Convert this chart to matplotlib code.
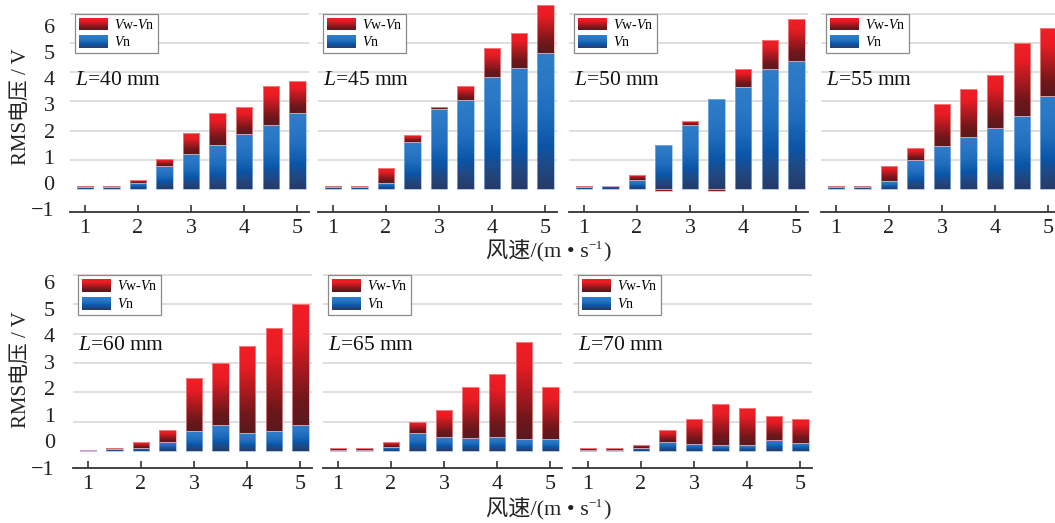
import numpy as np
import matplotlib
matplotlib.use('Agg')
import matplotlib.pyplot as plt
from matplotlib.colors import LinearSegmentedColormap
from matplotlib.patches import Rectangle
from matplotlib.legend_handler import HandlerBase
import matplotlib.transforms as mtransforms

plt.rcParams['font.family'] = ['Liberation Serif', 'Noto Sans CJK SC']
plt.rcParams['mathtext.fontset'] = 'custom'
plt.rcParams['mathtext.rm'] = 'Liberation Serif'
plt.rcParams['mathtext.it'] = 'Liberation Serif:italic'
plt.rcParams['axes.unicode_minus'] = True

# ---------------- data ----------------
wind_speed = [1.0, 1.5, 2.0, 2.5, 3.0, 3.5, 4.0, 4.5, 5.0]
x_ticks = [1, 2, 3, 4, 5]
y_ticks = [1, 2, 3, 4, 5, 6]
y_tick_labels = [-1, 0, 1, 2, 3, 4, 5, 6]
panel_labels = ['40', '45', '50', '55', '60', '65', '70']

vn_40 = [0.05, 0.05, 0.22, 0.80, 1.20, 1.50, 1.89, 2.20, 2.59]
diff_40 = [0.04, 0.04, 0.08, 0.22, 0.70, 1.09, 0.91, 1.32, 1.12]
vn_45 = [0.05, 0.05, 0.22, 1.62, 2.73, 3.05, 3.85, 4.13, 4.65]
diff_45 = [0.04, 0.04, 0.49, 0.22, 0.09, 0.49, 0.97, 1.20, 1.65]
vn_50 = [0.05, 0.11, 0.30, 1.50, 2.19, 3.09, 3.49, 4.10, 4.38]
diff_50 = [0.06, 0.00, 0.19, -0.06, 0.12, -0.06, 0.61, 0.99, 1.43]
vn_55 = [0.05, 0.05, 0.27, 1.00, 1.48, 1.79, 2.10, 2.50, 3.18]
diff_55 = [0.04, 0.04, 0.53, 0.41, 1.42, 1.62, 1.81, 2.50, 2.32]
vn_60 = [0.03, 0.06, 0.11, 0.31, 0.68, 0.90, 0.60, 0.68, 0.90]
diff_60 = [0.00, 0.05, 0.20, 0.40, 1.81, 2.09, 3.00, 3.51, 4.10]
vn_65 = [0.05, 0.05, 0.15, 0.60, 0.49, 0.45, 0.49, 0.40, 0.40]
diff_65 = [0.06, 0.06, 0.17, 0.40, 0.91, 1.72, 2.13, 3.32, 1.79]
vn_70 = [0.05, 0.05, 0.11, 0.31, 0.24, 0.19, 0.19, 0.39, 0.29]
diff_70 = [0.06, 0.06, 0.11, 0.39, 0.86, 1.41, 1.29, 0.80, 0.80]

vn_series = [vn_40, vn_45, vn_50, vn_55, vn_60, vn_65, vn_70]
diff_series = [diff_40, diff_45, diff_50, diff_55, diff_60, diff_65, diff_70]

# ---------------- style ----------------
W, H = 1055, 523
fig = plt.figure(figsize=(W / 100, H / 100), dpi=100)

blue_cmap = LinearSegmentedColormap.from_list('b', [
    (0.0, '#283a68'), (0.18, '#1f4a86'), (0.32, '#0a55a8'),
    (0.55, '#1e6cbc'), (0.8, '#2a78c6'), (1.0, '#2f7ec9')])
red_cmap = LinearSegmentedColormap.from_list('r', [
    (0.0, '#5a1a1e'), (0.2, '#6e171b'), (0.5, '#b01a20'),
    (0.75, '#e81c24'), (1.0, '#f21e26')])

bar_w = 0.31
grad = np.linspace(0, 1, 256).reshape(-1, 1)

# panel rects in pixels: left, top, width, height
top_rects = [(70, 0), (318, 0), (569, 0), (821, 0)]
bot_rects = [(73, 262), (323, 262), (573, 262)]
rects = [(l, t, 239, 212) for l, t in top_rects] + [(l, t, 239, 206) for l, t in bot_rects]
ylims = [(-0.79, 6.47)] * 4 + [(-0.58, 6.45)] * 3
label_ylims = {0: (-1.107, 6.985), 4: (-0.83, 6.76)}
label_pads = {0: 11, 4: 13}
text_y = [3.72] * 4 + [3.6] * 3


def to_fig(l, t, w, h):
    return [l / W, 1 - (t + h) / H, w / W, h / H]


def fill_gradient(ax, bars, cmap):
    for p in bars:
        x0, y0 = p.get_x(), p.get_y()
        w, h = p.get_width(), p.get_height()
        if abs(h) < 1e-9:
            continue
        ylo, yhi = min(y0, y0 + h), max(y0, y0 + h)
        im = ax.imshow(grad, extent=(x0, x0 + w, ylo, yhi), origin='lower',
                       aspect='auto', cmap=cmap, zorder=2, interpolation='bilinear')
        im.set_clip_path(p)


class GradHandler(HandlerBase):
    def __init__(self, cmap):
        super().__init__()
        self.cmap = cmap

    def create_artists(self, legend, orig_handle, xdescent, ydescent,
                       width, height, fontsize, trans):
        n = 30
        arts = []
        for i in range(n):
            r = Rectangle((-xdescent, -ydescent + height * i / n), width,
                          height / n * 1.15, facecolor=self.cmap((i + 0.5) / n),
                          edgecolor='none', transform=trans)
            arts.append(r)
        return arts


for i, (rect, vn, diff) in enumerate(zip(rects, vn_series, diff_series)):
    ax = fig.add_axes(to_fig(*rect))
    vn = np.array(vn)
    diff = np.array(diff)
    b1 = ax.bar(wind_speed, vn, bar_w, color='none', edgecolor='#8fb6e0',
                linewidth=0.5, zorder=3)
    fill_gradient(ax, b1, blue_cmap)
    bottoms = np.where(diff >= 0, vn, 0.0)
    b2 = ax.bar(wind_speed, diff, bar_w, bottom=bottoms, color='none',
                edgecolor='#f3a0a0', linewidth=0.5, zorder=3)
    fill_gradient(ax, b2, red_cmap)

    ax.set_xlim(0.72, 5.22)
    ax.set_ylim(*ylims[i])
    ax.set_xticks(x_ticks)
    ax.set_yticks(y_ticks)
    ax.yaxis.grid(True, color='#d9d9d9', linewidth=1.2)
    ax.set_axisbelow(True)
    ax.tick_params(axis='y', length=0, labelleft=False)
    ax.tick_params(axis='x', direction='in', length=5, width=1.2,
                   color='#333333', labelsize=16, pad=5, labelcolor='#222222')
    for s in ['left', 'right', 'top']:
        ax.spines[s].set_visible(False)
    ax.spines['bottom'].set_color('#333333')
    ax.spines['bottom'].set_linewidth(1.3)

    blend = mtransforms.blended_transform_factory(ax.transAxes, ax.transData)
    ax.text(0.02, text_y[i], f'$L$={panel_labels[i]} mm', transform=blend,
            fontsize=15.5, va='center', ha='left', color='#111111')

    h_red = Rectangle((0, 0), 1, 1)
    h_blue = Rectangle((0, 0), 1, 1)
    leg = ax.legend([h_red, h_blue], ['$V$w-$V$n', '$V$n'],
                    handler_map={h_red: GradHandler(red_cmap),
                                 h_blue: GradHandler(blue_cmap)},
                    loc='upper left', bbox_to_anchor=(0.02, 6.0),
                    bbox_transform=blend, borderaxespad=0, fontsize=10,
                    handlelength=2.1, handleheight=1.05, labelspacing=0.25,
                    borderpad=0.28, handletextpad=0.45, fancybox=False,
                    framealpha=1, edgecolor='#8a8a8a')
    leg.get_frame().set_linewidth(0.9)
    leg.set_zorder(5)

    if i in label_ylims:
        axl = fig.add_axes(to_fig(*rect))
        axl.patch.set_visible(False)
        for s in axl.spines.values():
            s.set_visible(False)
        axl.set_ylim(*label_ylims[i])
        axl.set_yticks(y_tick_labels)
        axl.set_xticks([])
        axl.tick_params(axis='y', length=0, pad=label_pads[i], labelsize=16,
                        labelcolor='#222222')

# axis labels
for yc in (107, 370):
    fig.text(22 / W, 1 - yc / H, 'RMS电压 / V', rotation=90, ha='center',
             va='center', fontsize=15, color='#222222')

renderer = fig.canvas.get_renderer()


def wind_label(xc, baseline_from_top):
    yb = H - baseline_from_top
    t1 = fig.text(0, 0, '风速/(m • s', fontsize=16, ha='left', va='baseline',
                  color='#222222')
    t2 = fig.text(0, 0, '−1', fontsize=9.5, ha='left', va='baseline',
                  color='#222222')
    t3 = fig.text(0, 0, ')', fontsize=16, ha='left', va='baseline',
                  color='#222222')
    w1 = t1.get_window_extent(renderer).width
    w2 = t2.get_window_extent(renderer).width
    w3 = t3.get_window_extent(renderer).width
    x0 = xc - (w1 + w2 + w3) / 2
    t1.set_position((x0 / W, yb / H))
    t2.set_position(((x0 + w1) / W, (yb + 8) / H))
    t3.set_position(((x0 + w1 + w2) / W, yb / H))


wind_label(548, 257)
wind_label(548, 515)

fig.savefig('out.png', dpi=100)
